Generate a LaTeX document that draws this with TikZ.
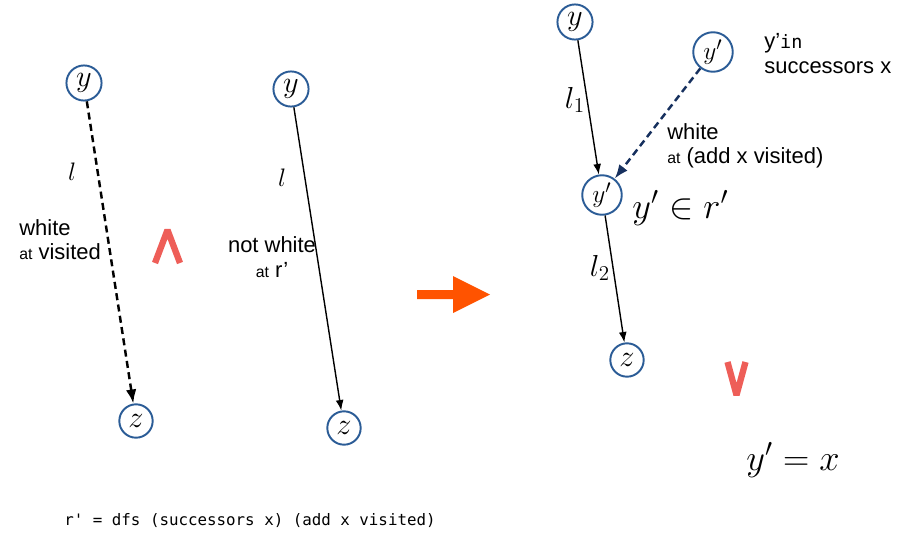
\documentclass[tikz,border=0pt]{standalone}
\usepackage{fontspec}
\setsansfont{Liberation Sans}
\setmonofont{DejaVu Sans Mono}
\usetikzlibrary{arrows.meta,positioning}
\definecolor{ringblue}{HTML}{2B5C96}
\definecolor{navy}{HTML}{16305E}
\definecolor{salmon}{HTML}{EE5E58}
\definecolor{flame}{HTML}{FF5300}
\tikzset{
  vert/.style={draw=ringblue, circle, line width=1.1pt, minimum size=20pt, inner sep=0pt, font=\fontsize{19}{19}\selectfont},
  vertp/.style={vert, minimum size=22.5pt, font=\fontsize{15}{15}\selectfont},
  vertz/.style={vert, minimum size=19pt, font=\fontsize{16}{16}\selectfont},
  line/.style={-{Latex[length=6pt,width=4.5pt]}, line width=0.8pt},
  dashedline/.style={-{Latex[length=8pt,width=6pt]}, line width=1.4pt, dash pattern=on 4pt off 2.5pt},
  lbl/.style={font=\fontsize{15}{18}\selectfont, inner sep=0pt},
  txt/.style={font=\sffamily\fontsize{12.5}{14}\selectfont, align=left, inner sep=0pt},
  caret/.style={draw=salmon, line width=3.6pt, line join=bevel}
}
\newcommand{\smallat}{{\fontsize{9}{10}\selectfont at}}

\begin{document}
\begin{tikzpicture}[x=0.02cm, y=-0.02cm]
  \useasboundingbox (0,0) rectangle (912,534);

  % left: dashed path
  \node[vert] (ya) at (84,83) {$y$};
  \node[vertz] (za) at (136,421) {$z$};
  \draw[dashedline] (ya) -- (za);
  \node[lbl] (la) at (72,172) {$l$};
  \node[txt, anchor=north west] (wa) at (19,219) {white\\\smallat{} visited};

  \draw[caret] (155,263) -- (167.5,230) -- (180,263);

  % middle: solid path
  \node[vert] (yb) at (291,89) {$y$};
  \node[vertz] (zb) at (344,428) {$z$};
  \draw[line] (yb) -- (zb);
  \node[lbl] (lb) at (282,178) {$l$};
  \node[txt, align=center] (wb) at (272,257) {not white\\\smallat{} r’};

  % big arrow
  \fill[flame] (417,290) -- (453,290) -- (453,276) -- (490,294.5) -- (453,313) -- (453,299) -- (417,299) -- cycle;

  % right: split path
  \node[vert] (yc) at (575,22) {$y$};
  \node[vertp] (ys) at (713,52) {$y'$};
  \node[vertp] (ym) at (602,195) {$y'$};
  \node[vertz] (zc) at (627,360) {$z$};
  \draw[line] (yc) -- (ym);
  \draw[line] (ym) -- (zc);
  \draw[dashedline, navy] (ys) -- (ym);
  \node[lbl, font=\fontsize{16.5}{18}\selectfont] (l1) at (575,100) {$l_1$};
  \node[lbl, font=\fontsize{17}{18}\selectfont] (l2) at (600,268) {$l_2$};
  \node[lbl, anchor=west, font=\fontsize{20.5}{22}\selectfont] (mem) at (632,208) {$y' \in r'$};
  \node[txt, anchor=north west] (succ) at (764,33) {y’{\ttfamily\fontsize{10.5}{10.5}\selectfont in}\\successors x};
  \node[txt, anchor=north west] (wc) at (667,123) {white\\\smallat{} (add x visited)};

  \draw[caret] (727.5,362) -- (736.5,395) -- (745.5,362);
  \node[lbl, font=\fontsize{20.5}{22}\selectfont] (eq) at (793,460) {$y' = x$};

  % definition
  \node[font=\ttfamily\fontsize{9}{10}\selectfont] (def) at (250,521) {r' = dfs (successors x) (add x visited)};
\end{tikzpicture}
\end{document}
